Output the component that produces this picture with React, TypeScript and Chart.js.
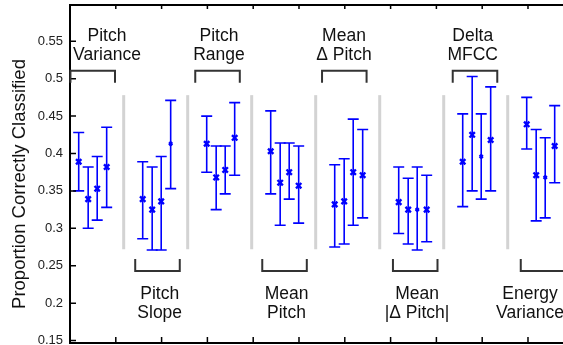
import React, { useEffect, useRef } from 'react';
import { Chart, registerables } from 'chart.js';

Chart.register(...registerables);

// ---------------- data ----------------
const categories = [
  'Pitch Variance',
  'Pitch Slope',
  'Pitch Range',
  'Mean Pitch',
  'Mean Δ Pitch',
  'Mean |Δ Pitch|',
  'Delta MFCC',
  'Energy Variance',
];
const labelLines = [
  ['Pitch', 'Variance'],
  ['Pitch', 'Slope'],
  ['Pitch', 'Range'],
  ['Mean', 'Pitch'],
  ['Mean', 'Δ Pitch'],
  ['Mean', '|Δ Pitch|'],
  ['Delta', 'MFCC'],
  ['Energy', 'Variance'],
];
const meanValues = [
  [0.389, 0.339, 0.353, 0.382],
  [0.339, 0.325, 0.336, 0.413],
  [0.413, 0.368, 0.378, 0.421],
  [0.403, 0.361, 0.375, 0.357],
  [0.332, 0.336, 0.375, 0.371],
  [0.335, 0.325, 0.325, 0.325],
  [0.389, 0.425, 0.396, 0.418],
  [0.439, 0.371, 0.368, 0.410],
];
const lowerValues = [
  [0.350, 0.300, 0.311, 0.328],
  [0.286, 0.271, 0.271, 0.353],
  [0.375, 0.325, 0.346, 0.371],
  [0.346, 0.304, 0.339, 0.307],
  [0.275, 0.279, 0.304, 0.314],
  [0.293, 0.279, 0.271, 0.282],
  [0.329, 0.350, 0.339, 0.350],
  [0.406, 0.310, 0.314, 0.361],
];
const upperValues = [
  [0.428, 0.382, 0.396, 0.435],
  [0.389, 0.382, 0.396, 0.471],
  [0.450, 0.410, 0.410, 0.468],
  [0.457, 0.414, 0.414, 0.410],
  [0.385, 0.393, 0.446, 0.432],
  [0.382, 0.367, 0.382, 0.371],
  [0.453, 0.503, 0.453, 0.489],
  [0.475, 0.432, 0.421, 0.464],
];
const yTickLabels = ['0.15', '0.2', '0.25', '0.3', '0.35', '0.4', '0.45', '0.5', '0.55'];
const yAxisTitle = 'Proportion Correctly Classified';

// ---------------- layout / style ----------------
const FONT = '"Liberation Sans", Arial, Helvetica, sans-serif';
const X_MIN = 0.161;
const X_MAX = 7.864;
const Y_MIN = 0.1467;
const Y_MAX = 0.5985;
const X_TICK_STEP = 0.7156;
const barOffsets = [0.297, 0.445, 0.586, 0.734];
const labelCenters = [0.739, 0.5625, 0.489, 0.544, 0.442, 0.583, 0.453, 0.348];
const bracketCenters = [0.516, 0.528, 0.466, 0.513, 0.447, 0.555, 0.489, 0.552];
const BRACKET_HALF = 0.348;
const SEP_TOP = 0.478;
const SEP_BOTTOM = 0.272;
const TOP_BRACKET_Y = 0.5107;
const BOTTOM_BRACKET_Y = 0.2429;
const smallMarkers = ['1-3', '5-2', '6-2', '7-2'];
const BLUE = '#0000ff';

const decor = {
  id: 'decor',
  beforeDatasetsDraw(chart: any) {
    const { ctx, scales } = chart;
    const x = scales.x;
    const y = scales.y;
    ctx.save();
    ctx.strokeStyle = '#d3d3d3';
    ctx.lineWidth = 3;
    for (let g = 1; g < categories.length; g++) {
      const px = x.getPixelForValue(g);
      ctx.beginPath();
      ctx.moveTo(px, y.getPixelForValue(SEP_TOP));
      ctx.lineTo(px, y.getPixelForValue(SEP_BOTTOM));
      ctx.stroke();
    }
    ctx.strokeStyle = BLUE;
    ctx.lineWidth = 1.6;
    meanValues.forEach((row, g) =>
      row.forEach((_, j) => {
        const px = x.getPixelForValue(g + barOffsets[j]);
        const top = y.getPixelForValue(upperValues[g][j]);
        const bot = y.getPixelForValue(lowerValues[g][j]);
        ctx.beginPath();
        ctx.moveTo(px, top);
        ctx.lineTo(px, bot);
        ctx.moveTo(px - 5.5, top);
        ctx.lineTo(px + 5.5, top);
        ctx.moveTo(px - 5.5, bot);
        ctx.lineTo(px + 5.5, bot);
        ctx.stroke();
      })
    );
    ctx.restore();
  },
  afterDraw(chart: any) {
    const { ctx, chartArea: a, scales } = chart;
    const x = scales.x;
    const y = scales.y;
    ctx.save();
    // frame
    ctx.strokeStyle = '#000';
    ctx.lineWidth = 2;
    ctx.beginPath();
    ctx.moveTo(a.right + 2, a.top);
    ctx.lineTo(a.left, a.top);
    ctx.lineTo(a.left, a.bottom);
    ctx.lineTo(a.right + 2, a.bottom);
    ctx.stroke();
    // ticks
    ctx.lineWidth = 1.5;
    ctx.beginPath();
    yTickLabels.forEach((l) => {
      const py = y.getPixelForValue(parseFloat(l));
      ctx.moveTo(a.left, py);
      ctx.lineTo(a.left + 6, py);
    });
    for (let k = 1; k <= 10; k++) {
      const px = x.getPixelForValue(X_MIN + k * X_TICK_STEP);
      ctx.moveTo(px, a.top);
      ctx.lineTo(px, a.top + 4);
      ctx.moveTo(px, a.bottom);
      ctx.lineTo(px, a.bottom - 6);
    }
    ctx.stroke();
    // brackets and labels
    ctx.strokeStyle = '#333';
    ctx.lineWidth = 2;
    ctx.fillStyle = '#111';
    ctx.font = `17.5px ${FONT}`;
    ctx.textAlign = 'center';
    ctx.textBaseline = 'alphabetic';
    labelLines.forEach((lines, g) => {
      const isTop = g % 2 === 0;
      const yLine = y.getPixelForValue(isTop ? TOP_BRACKET_Y : BOTTOM_BRACKET_Y);
      const end = isTop ? yLine + 12 : yLine - 12;
      const l = x.getPixelForValue(g + bracketCenters[g] - BRACKET_HALF);
      const r = x.getPixelForValue(g + bracketCenters[g] + BRACKET_HALF);
      ctx.beginPath();
      ctx.moveTo(l, end);
      ctx.lineTo(l, yLine);
      ctx.lineTo(r, yLine);
      ctx.lineTo(r, end);
      ctx.stroke();
      const cx = x.getPixelForValue(g + labelCenters[g]);
      if (isTop) {
        ctx.fillText(lines[0], cx, yLine - 30);
        ctx.fillText(lines[1], cx, yLine - 10.7);
      } else {
        ctx.fillText(lines[0], cx, yLine + 28.3);
        ctx.fillText(lines[1], cx, yLine + 46.7);
      }
    });
    // y axis title
    ctx.fillStyle = '#111';
    ctx.font = `18.5px ${FONT}`;
    ctx.translate(25, 184);
    ctx.rotate(-Math.PI / 2);
    ctx.fillText(yAxisTitle, 0, 0);
    ctx.restore();
  },
};

export default function App() {
  const ref = useRef<HTMLCanvasElement>(null);
  useEffect(() => {
    if (!ref.current) return;
    const points: { x: number; y: number }[] = [];
    const radii: number[] = [];
    meanValues.forEach((row, g) =>
      row.forEach((v, j) => {
        points.push({ x: g + barOffsets[j], y: v });
        radii.push(smallMarkers.includes(`${g}-${j}`) ? 2.2 : 3.8);
      })
    );
    const chart = new Chart(ref.current, {
      type: 'scatter',
      data: {
        datasets: [
          {
            label: 'means',
            data: points,
            pointStyle: 'crossRot',
            pointRadius: radii,
            pointBorderWidth: 2.4,
            borderColor: BLUE,
            backgroundColor: BLUE,
          },
        ],
      },
      options: {
        animation: false,
        responsive: false,
        layout: { autoPadding: false, padding: { top: 5, bottom: 2, left: 0, right: 0 } },
        plugins: { legend: { display: false }, tooltip: { enabled: false } },
        scales: {
          x: { type: 'linear', display: false, min: X_MIN, max: X_MAX },
          y: {
            type: 'linear',
            min: Y_MIN,
            max: Y_MAX,
            grid: { display: false, drawTicks: false },
            border: { display: false },
            afterBuildTicks: (scale: any) => {
              scale.ticks = yTickLabels.map((l) => ({ value: parseFloat(l) }));
            },
            afterFit: (scale: any) => {
              scale.width = 70;
              scale.paddingTop = 0;
              scale.paddingBottom = 0;
            },
            ticks: {
              padding: 7,
              color: '#222',
              font: { family: FONT, size: 13 },
              callback: (v: any) => {
                const f = yTickLabels.find((l) => Math.abs(parseFloat(l) - Number(v)) < 1e-6);
                return f ?? '';
              },
            },
          },
        },
      },
      plugins: [decor],
    });
    return () => chart.destroy();
  }, []);
  return (
    <div style={{ position: 'fixed', left: 0, top: 0, width: 563, height: 345, background: '#fff' }}>
      <canvas ref={ref} width={563} height={345} style={{ display: 'block' }} />
    </div>
  );
}
